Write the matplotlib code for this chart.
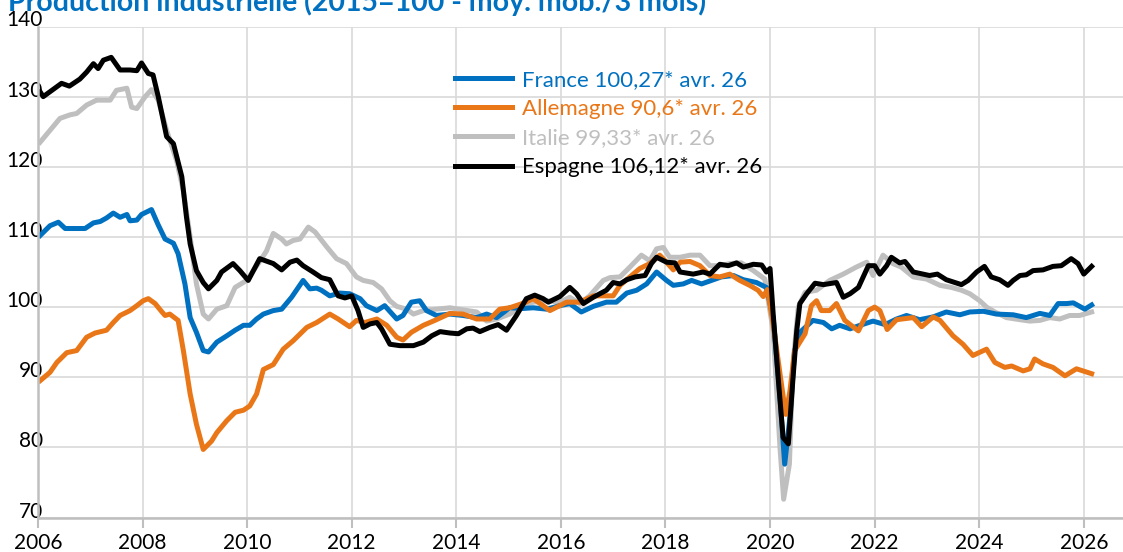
import matplotlib

matplotlib.use("Agg")
import matplotlib.pyplot as plt
import matplotlib.transforms as mtransforms

plt.rcParams["font.family"] = ["Lato", "DejaVu Sans"]

# %% data (decimal years, index 2015=100, 3-month moving average)
france_x = [2006.04, 2006.23, 2006.39, 2006.52, 2006.9, 2007.06, 2007.19, 2007.31, 2007.44, 2007.57,
            2007.7, 2007.76, 2007.89, 2007.98, 2008.17, 2008.3, 2008.43, 2008.59, 2008.68, 2008.81,
            2008.91, 2009.03, 2009.16, 2009.26, 2009.42, 2009.61, 2009.77, 2009.93, 2010.05, 2010.18,
            2010.31, 2010.5, 2010.66, 2010.85, 2011.07, 2011.2, 2011.33, 2011.42, 2011.58, 2011.77,
            2011.96, 2012.16, 2012.28, 2012.48, 2012.63, 2012.86, 2012.98, 2013.14, 2013.3, 2013.43,
            2013.62, 2013.88, 2014.13, 2014.39, 2014.58, 2014.77, 2015.02, 2015.28, 2015.47, 2015.73,
            2015.98, 2016.17, 2016.39, 2016.62, 2016.87, 2017.06, 2017.26, 2017.45, 2017.64, 2017.83,
            2018.02, 2018.15, 2018.34, 2018.5, 2018.69, 2018.88, 2019.07, 2019.3, 2019.49, 2019.74,
            2019.93, 2020.06, 2020.19, 2020.28, 2020.38, 2020.47, 2020.6, 2020.82, 2021.02, 2021.18,
            2021.33, 2021.53, 2021.72, 2021.97, 2022.2, 2022.42, 2022.61, 2022.86, 2023.12, 2023.37,
            2023.63, 2023.82, 2024.08, 2024.33, 2024.65, 2024.9, 2025.16, 2025.35, 2025.51, 2025.67,
            2025.8, 2026.02, 2026.15]
france_y = [110.2, 111.6, 112.1, 111.2, 111.2, 112.0, 112.2, 112.7, 113.4, 112.8,
            113.2, 112.3, 112.4, 113.2, 113.9, 111.7, 109.7, 109.1, 107.6, 103.3,
            98.5, 96.4, 93.8, 93.6, 95.0, 95.9, 96.7, 97.4, 97.4, 98.3,
            99.0, 99.5, 99.7, 101.4, 103.8, 102.6, 102.7, 102.4, 101.6, 102.0,
            101.9, 101.2, 100.2, 99.5, 100.2, 98.3, 98.8, 100.7, 100.9, 99.5,
            98.8, 99.0, 98.8, 98.5, 99.0, 98.5, 99.9, 99.8, 99.9, 99.7,
            100.2, 100.5, 99.3, 100.1, 100.7, 100.7, 102.0, 102.4, 103.3, 105.0,
            103.8, 103.1, 103.3, 103.8, 103.3, 103.8, 104.3, 104.5, 103.9, 103.5,
            102.8, 98.5, 87.1, 77.6, 84.3, 93.8, 96.6, 98.1, 97.8, 96.9,
            97.4, 96.9, 97.4, 98.0, 97.5, 98.3, 98.8, 98.2, 98.6, 99.3,
            98.9, 99.3, 99.4, 99.0, 98.9, 98.5, 99.1, 98.8, 100.5, 100.5,
            100.6, 99.7, 100.3]

allemagne_x = [2006.04, 2006.23, 2006.36, 2006.55, 2006.74, 2006.93, 2007.09, 2007.31, 2007.44, 2007.57,
               2007.76, 2007.89, 2008.01, 2008.11, 2008.24, 2008.36, 2008.43, 2008.52, 2008.68, 2008.78,
               2008.91, 2009.03, 2009.16, 2009.32, 2009.42, 2009.61, 2009.77, 2009.93, 2010.05, 2010.18,
               2010.31, 2010.5, 2010.69, 2010.88, 2011.14, 2011.33, 2011.58, 2011.74, 2011.96, 2012.09,
               2012.25, 2012.48, 2012.67, 2012.86, 2012.98, 2013.14, 2013.37, 2013.59, 2013.88, 2014.13,
               2014.39, 2014.64, 2014.83, 2015.02, 2015.3, 2015.47, 2015.79, 2016.11, 2016.36, 2016.62,
               2016.87, 2017.0, 2017.13, 2017.32, 2017.51, 2017.7, 2017.89, 2018.02, 2018.15, 2018.28,
               2018.47, 2018.66, 2018.85, 2019.04, 2019.23, 2019.42, 2019.61, 2019.77, 2019.87, 2019.95,
               2020.06, 2020.19, 2020.3, 2020.38, 2020.47, 2020.67, 2020.79, 2020.89, 2020.98, 2021.14,
               2021.27, 2021.43, 2021.69, 2021.88, 2022.0, 2022.1, 2022.24, 2022.42, 2022.74, 2022.9,
               2023.12, 2023.25, 2023.5, 2023.69, 2023.88, 2024.14, 2024.3, 2024.49, 2024.62, 2024.84,
               2024.97, 2025.06, 2025.22, 2025.41, 2025.64, 2025.86, 2026.15]
allemagne_y = [89.5, 90.7, 92.1, 93.5, 93.8, 95.7, 96.3, 96.7, 97.8, 98.8,
               99.5, 100.2, 100.9, 101.2, 100.5, 99.4, 98.8, 99.0, 98.1, 93.8,
               87.6, 83.3, 79.7, 80.9, 82.1, 83.8, 85.0, 85.3, 85.9, 87.6,
               91.1, 91.8, 94.0, 95.2, 97.1, 97.8, 99.0, 98.3, 97.2, 98.1,
               97.8, 98.3, 97.4, 95.7, 95.3, 96.4, 97.4, 98.1, 99.1, 99.0,
               98.3, 98.3, 99.7, 99.9, 100.6, 101.2, 99.5, 100.7, 100.7, 101.6,
               101.6, 101.6, 103.1, 104.3, 105.5, 106.2, 107.4, 106.4, 105.3, 106.4,
               106.5, 105.9, 104.5, 104.3, 104.7, 103.8, 103.1, 102.4, 101.5, 102.5,
               97.6, 90.5, 84.7, 88.0, 93.8, 96.2, 100.2, 100.9, 99.5, 99.5,
               100.5, 98.1, 96.6, 99.5, 100.0, 99.5, 96.8, 98.2, 98.5, 97.2,
               98.6, 98.1, 95.9, 94.7, 93.1, 94.0, 92.1, 91.4, 91.6, 90.9,
               91.2, 92.6, 91.9, 91.4, 90.2, 91.2, 90.5]

italie_x = [2006.04, 2006.23, 2006.42, 2006.61, 2006.74, 2006.93, 2007.12, 2007.38, 2007.5, 2007.7,
            2007.79, 2007.89, 2008.05, 2008.17, 2008.3, 2008.46, 2008.65, 2008.78, 2008.91, 2009.03,
            2009.16, 2009.26, 2009.42, 2009.61, 2009.77, 2009.99, 2010.24, 2010.37, 2010.5, 2010.66,
            2010.75, 2010.88, 2011.01, 2011.17, 2011.3, 2011.52, 2011.71, 2011.9, 2012.09, 2012.22,
            2012.41, 2012.57, 2012.73, 2012.86, 2013.05, 2013.18, 2013.37, 2013.62, 2013.88, 2014.13,
            2014.39, 2014.58, 2014.77, 2015.02, 2015.28, 2015.47, 2015.73, 2015.98, 2016.17, 2016.36,
            2016.55, 2016.81, 2016.94, 2017.13, 2017.32, 2017.54, 2017.7, 2017.83, 2017.96, 2018.08,
            2018.28, 2018.47, 2018.66, 2018.85, 2019.04, 2019.23, 2019.45, 2019.68, 2019.9, 2020.06,
            2020.19, 2020.26, 2020.37, 2020.44, 2020.54, 2020.67, 2020.89, 2021.14, 2021.4, 2021.65,
            2021.85, 2021.97, 2022.16, 2022.35, 2022.51, 2022.74, 2022.99, 2023.25, 2023.47, 2023.66,
            2023.82, 2024.01, 2024.14, 2024.3, 2024.52, 2024.78, 2024.97, 2025.16, 2025.35, 2025.54,
            2025.73, 2025.92, 2026.15]
italie_y = [123.5, 125.2, 126.9, 127.4, 127.6, 128.8, 129.5, 129.5, 130.9, 131.2,
            128.5, 128.3, 130.0, 131.0, 129.5, 125.2, 120.9, 116.6, 110.0, 103.3,
            99.0, 98.3, 99.7, 100.2, 102.8, 103.8, 106.5, 108.0, 110.5, 109.7,
            109.0, 109.5, 109.7, 111.4, 110.7, 108.6, 106.9, 106.2, 104.3, 103.8,
            103.5, 102.6, 100.9, 100.1, 99.7, 99.0, 99.5, 99.7, 99.9, 99.6,
            99.3, 98.0, 98.3, 99.0, 100.2, 100.7, 100.9, 100.7, 101.4, 100.5,
            101.6, 103.8, 104.2, 104.3, 105.7, 107.4, 106.6, 108.3, 108.5, 107.1,
            107.1, 107.4, 107.4, 105.9, 105.9, 106.2, 106.3, 105.2, 104.0, 96.6,
            80.0, 72.6, 77.6, 91.9, 100.0, 102.1, 102.4, 103.8, 104.7, 105.7,
            106.4, 104.5, 107.4, 106.2, 105.7, 104.3, 104.0, 103.1, 102.8, 102.4,
            101.9, 100.9, 100.0, 99.3, 98.5, 98.2, 98.0, 98.1, 98.5, 98.3,
            98.8, 98.8, 99.3]

espagne_x = [2006.04, 2006.1, 2006.45, 2006.6, 2006.8, 2006.93, 2007.06, 2007.15, 2007.25, 2007.4,
             2007.57, 2007.76, 2007.89, 2007.98, 2008.11, 2008.2, 2008.3, 2008.46, 2008.59, 2008.75,
             2008.84, 2008.91, 2009.03, 2009.16, 2009.26, 2009.42, 2009.51, 2009.73, 2009.86, 2010.02,
             2010.24, 2010.5, 2010.66, 2010.82, 2010.95, 2011.07, 2011.26, 2011.42, 2011.58, 2011.74,
             2011.87, 2012.0, 2012.12, 2012.22, 2012.35, 2012.48, 2012.57, 2012.73, 2012.92, 2013.18,
             2013.37, 2013.53, 2013.69, 2013.88, 2014.04, 2014.2, 2014.32, 2014.45, 2014.64, 2014.8,
             2014.96, 2015.15, 2015.34, 2015.5, 2015.66, 2015.76, 2015.98, 2016.17, 2016.3, 2016.43,
             2016.62, 2016.87, 2017.0, 2017.13, 2017.26, 2017.42, 2017.61, 2017.73, 2017.83, 2018.02,
             2018.18, 2018.28, 2018.53, 2018.72, 2018.85, 2019.04, 2019.2, 2019.36, 2019.49, 2019.68,
             2019.84, 2019.93, 2020.0, 2020.06, 2020.16, 2020.25, 2020.35, 2020.44, 2020.51, 2020.57,
             2020.7, 2020.86, 2021.02, 2021.27, 2021.4, 2021.53, 2021.69, 2021.88, 2022.0, 2022.1,
             2022.23, 2022.32, 2022.48, 2022.58, 2022.74, 2022.93, 2023.05, 2023.2, 2023.37, 2023.66,
             2023.79, 2023.95, 2024.1, 2024.23, 2024.39, 2024.55, 2024.65, 2024.78, 2024.9, 2025.03,
             2025.22, 2025.41, 2025.57, 2025.76, 2025.89, 2026.0, 2026.15]
espagne_y = [130.7, 130.0, 131.9, 131.5, 132.5, 133.5, 134.7, 134.0, 135.2, 135.6,
             133.8, 133.8, 133.7, 134.8, 133.3, 133.1, 130.0, 124.3, 123.3, 118.6,
             112.8, 109.0, 105.2, 103.5, 102.6, 103.8, 105.0, 106.2, 105.2, 103.8,
             106.9, 106.2, 105.3, 106.4, 106.7, 105.9, 105.0, 104.2, 103.9, 101.6,
             101.3, 101.6, 99.5, 97.1, 97.6, 97.8, 96.9, 94.7, 94.5, 94.5,
             95.0, 95.9, 96.5, 96.3, 96.2, 96.9, 97.0, 96.5, 97.1, 97.5,
             96.7, 98.8, 101.2, 101.7, 101.2, 100.7, 101.5, 102.8, 101.9, 100.5,
             101.4, 102.4, 103.5, 103.3, 103.9, 104.3, 104.5, 106.2, 107.1, 106.4,
             106.3, 105.0, 104.7, 105.0, 104.7, 106.1, 105.9, 106.3, 105.7, 106.1,
             106.0, 105.0, 105.5, 99.0, 89.5, 81.4, 80.5, 90.0, 96.6, 100.5,
             101.9, 103.4, 103.2, 103.5, 101.4, 101.9, 102.8, 105.9, 105.9, 104.7,
             105.9, 107.1, 106.3, 106.5, 105.0, 104.7, 104.5, 104.7, 103.9, 103.2,
             103.8, 105.0, 105.8, 104.3, 103.9, 103.1, 103.8, 104.5, 104.6, 105.2,
             105.3, 105.8, 105.9, 106.9, 106.2, 104.7, 105.8]

labels = ["France 100,27* avr. 26", "Allemagne 90,6* avr. 26",
          "Italie 99,33* avr. 26", "Espagne 106,12* avr. 26"]
colors = ["#0070C0", "#E97718", "#BFBFBF", "#000000"]
years = list(range(2006, 2027, 2))
yticks = list(range(70, 141, 10))
title = "Production industrielle (2015=100 - moy. mob./3 mois)"

# %% figure
fig = plt.figure(figsize=(11.23, 5.52), dpi=100)
ax = fig.add_axes([38 / 1123, 34.5 / 552, 1085 / 1123, 491 / 552])

lw = 3.6
l_it, = ax.plot(italie_x, italie_y, color=colors[2], lw=lw, solid_joinstyle="round")
l_fr, = ax.plot(france_x, france_y, color=colors[0], lw=lw, solid_joinstyle="round")
l_de, = ax.plot(allemagne_x, allemagne_y, color=colors[1], lw=lw, solid_joinstyle="round")
l_es, = ax.plot(espagne_x, espagne_y, color=colors[3], lw=lw, solid_joinstyle="round")

ax.set_xlim(2006, 2026.75)
ax.set_ylim(70, 140)
ax.set_xticks(years)
ax.set_yticks(yticks)
ax.grid(True, color="#D9D9D9", lw=1.2)
ax.set_axisbelow(True)
for s in ["top", "right"]:
    ax.spines[s].set_visible(False)
for s in ["left", "bottom"]:
    ax.spines[s].set_color("#BFBFBF")
    ax.spines[s].set_linewidth(1.8)
ax.tick_params(axis="x", length=7.5, width=1.5, color="#BFBFBF", labelsize=15, pad=4)
ax.tick_params(axis="y", length=0, labelsize=15, pad=-3.6)

# y labels sit a little above their gridline, as in the original
offset = mtransforms.ScaledTranslation(0, 0.08, fig.dpi_scale_trans)
for lab in ax.get_yticklabels():
    lab.set_transform(lab.get_transform() + offset)

ax.legend(handles=[l_fr, l_de, l_it, l_es], labels=labels,
          loc="upper left", bbox_to_anchor=(455 / 1123, 1 - 70 / 552),
          bbox_transform=fig.transFigure, frameon=False, fontsize=16,
          labelcolor=colors, handlelength=2.57, handletextpad=0.45,
          labelspacing=0.41, borderpad=0, borderaxespad=0)

fig.text(8 / 1123, 1 - 11 / 552, title, color="#0070C0", fontsize=20.5,
         fontweight="bold", ha="left", va="baseline")

fig.savefig("out.png", dpi=100)
